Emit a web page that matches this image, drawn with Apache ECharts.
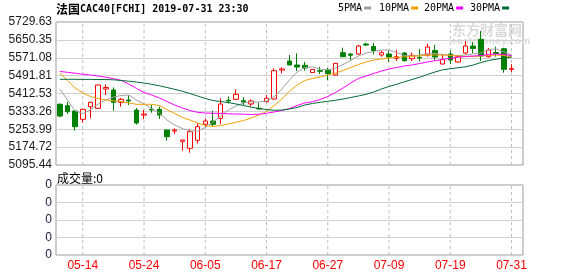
<!DOCTYPE html>
<html><head><meta charset="utf-8">
<script src="https://cdn.jsdelivr.net/npm/echarts@6/dist/echarts.min.js"></script>
<style>html,body{margin:0;padding:0;background:#fff}#c{width:578px;height:276px;background:#fff}</style>
</head><body><div id="c"></div>
<script>
const dates = ['05-09','05-10','05-13','05-14','05-15','05-16','05-17','05-20','05-21','05-22','05-23','05-24','05-27','05-28','05-29','05-30','05-31','06-03','06-04','06-05','06-06','06-07','06-10','06-11','06-12','06-13','06-14','06-17','06-18','06-19','06-20','06-21','06-24','06-25','06-26','06-27','06-28','07-01','07-02','07-03','07-04','07-05','07-08','07-09','07-10','07-11','07-12','07-15','07-16','07-17','07-18','07-19','07-22','07-23','07-24','07-25','07-26','07-29','07-30','07-31'];
const opens = [5364.6,5358.4,5334.9,5298.1,5354.0,5346.9,5432.5,5428.0,5373.5,5383.7,
5339.3,5317.2,5342.4,5342.4,5250.6,5246.2,5200.5,5169.5,5205.0,5275.9,
5290.5,5302.5,5382.4,5386.8,5380.6,5365.9,5346.9,5376.1,5388.1,5516.7,
5556.6,5538.9,5537.6,5505.6,5513.6,5516.7,5494.5,5593.5,5587.7,5587.7,
5632.0,5621.0,5583.2,5587.7,5568.6,5592.1,5566.9,5572.9,5583.3,5603.2,
5543.3,5587.7,5552.2,5592.1,5623.2,5652.9,5575.7,5594.3,5611.2,5519.8];
const closes = [5312.7,5331.8,5265.3,5342.4,5373.5,5450.2,5439.1,5373.5,5386.8,5379.3,
5281.7,5321.6,5339.3,5317.2,5220.9,5250.6,5206.3,5243.1,5265.3,5290.5,
5275.9,5365.9,5379.3,5409.0,5374.8,5379.3,5343.8,5391.2,5513.6,5521.2,
5538.9,5530.0,5525.6,5519.0,5511.0,5501.2,5546.4,5575.7,5582.0,5623.2,
5627.6,5603.2,5593.5,5574.4,5575.7,5558.0,5582.0,5569.9,5618.7,5574.4,
5563.3,5561.0,5575.7,5623.2,5612.1,5578.8,5605.4,5589.9,5519.8,5522.5];
const lows = [5307.0,5321.6,5247.5,5283.0,5302.5,5345.0,5405.9,5336.2,5354.0,5361.5,
5275.0,5298.1,5327.4,5299.4,5203.2,5232.9,5158.8,5150.0,5190.7,5265.3,
5268.4,5277.3,5368.2,5383.7,5361.5,5354.0,5342.0,5373.5,5383.7,5502.1,
5538.9,5512.3,5513.6,5503.5,5499.0,5472.4,5492.3,5574.4,5561.0,5583.3,
5623.2,5585.5,5575.7,5552.2,5556.6,5554.4,5556.6,5554.4,5575.7,5561.0,
5541.0,5543.3,5550.0,5585.5,5590.8,5556.6,5572.2,5575.7,5504.7,5507.8];
const highs = [5369.0,5374.8,5339.0,5345.0,5375.0,5452.0,5453.3,5440.0,5392.6,5403.7,
5348.2,5339.3,5361.5,5354.0,5251.0,5258.2,5206.5,5253.7,5280.3,5302.5,
5336.2,5391.2,5399.3,5431.1,5395.7,5386.8,5371.7,5405.9,5524.3,5528.7,
5583.2,5590.8,5552.2,5521.0,5531.4,5525.6,5547.7,5615.6,5590.8,5627.6,
5637.8,5636.5,5602.3,5601.0,5605.4,5596.6,5593.5,5609.9,5634.3,5627.6,
5587.7,5602.3,5581.0,5645.4,5640.9,5689.7,5614.3,5620.0,5615.6,5542.0];
const ma5 = [5432.5,5383.7,5334.9,5323.8,5339.3,5365.9,5383.7,5397.0,5403.6,5406.0,
5383.7,5365.9,5346.0,5326.0,5295.0,5272.8,5257.3,5246.2,5246.2,5261.7,
5286.1,5312.7,5339.3,5357.1,5370.4,5374.8,5374.8,5379.3,5397.0,5432.5,
5472.4,5507.9,5527.8,5530.0,5521.2,5516.7,5525.6,5541.1,5558.9,5578.8,
5592.1,5598.8,5605.4,5605.4,5594.3,5581.0,5578.8,5583.2,5589.9,5589.9,
5585.5,5583.2,5581.0,5583.2,5587.7,5592.1,5607.7,5609.9,5596.6,5583.2];
const ma10 = [5503.4,5470.2,5436.9,5414.7,5399.2,5390.3,5383.7,5380.6,5377.0,5370.4,
5364.6,5364.6,5364.6,5359.3,5341.5,5323.8,5306.1,5295.0,5281.7,5270.6,
5266.2,5270.6,5277.2,5284.8,5292.8,5303.8,5317.2,5332.7,5359.3,5388.1,
5423.6,5450.2,5470.2,5479.0,5485.7,5494.5,5503.4,5514.5,5527.8,5541.1,
5552.2,5561.1,5565.5,5569.9,5573.0,5575.3,5577.5,5579.7,5582.0,5583.2,
5583.2,5581.0,5578.8,5576.6,5576.6,5578.8,5581.0,5583.2,5581.0,5574.4];
const ma20 = [5510.1,5506.5,5502.5,5498.1,5494.5,5490.1,5484.4,5478.2,5471.0,5454.6,
5435.6,5416.9,5405.8,5392.5,5377.0,5361.5,5348.2,5337.1,5329.1,5326.0,
5324.7,5323.8,5322.5,5321.6,5320.7,5319.4,5320.3,5324.7,5330.5,5337.1,
5346.0,5359.3,5370.4,5376.1,5385.9,5399.2,5416.9,5436.9,5459.1,5479.0,
5490.1,5501.2,5512.3,5521.2,5527.8,5534.5,5539.0,5545.6,5552.2,5558.0,
5563.3,5568.6,5573.0,5576.6,5578.8,5581.0,5585.5,5587.7,5585.5,5580.1];
const ma30 = [5475.5,5475.5,5475.5,5475.1,5475.1,5474.6,5474.6,5473.3,5470.2,5467.1,
5463.5,5459.1,5453.3,5446.7,5439.1,5431.1,5422.7,5412.5,5401.4,5390.3,
5381.5,5377.0,5372.6,5366.0,5359.3,5351.7,5346.0,5341.5,5338.0,5339.3,
5343.8,5350.4,5361.5,5368.2,5373.5,5378.0,5382.4,5388.1,5394.8,5401.4,
5409.0,5419.2,5432.5,5443.6,5453.3,5464.4,5474.6,5484.4,5496.8,5507.9,
5517.6,5522.5,5526.5,5531.0,5538.9,5550.0,5558.9,5564.6,5569.9,5573.5];
const volumes = [0,0,0,0,0,0,0,0,0,0,0,0,0,0,0,0,0,0,0,0,0,0,0,0,0,0,0,0,0,0,
0,0,0,0,0,0,0,0,0,0,0,0,0,0,0,0,0,0,0,0,0,0,0,0,0,0,0,0,0,0];
const yTickValues = [5095.44,5174.72,5253.99,5333.26,5412.53,5491.81,5571.08,5650.35,5729.63];
const yTickLabels = ['5095.44','5174.72','5253.99','5333.26','5412.53','5491.81','5571.08','5650.35','5729.63'];
const volTickValues = [0,1,2,3,4];
const volTickLabels = ['0','0','0','0','0'];
const xTickLabels = ['05-14','05-24','06-05','06-17','06-27','07-09','07-19','07-31'];
const maNames = ['5PMA','10PMA','20PMA','30PMA'];
const titleText = '法国CAC40[FCHI] 2019-07-31 23:30';
const volTitle = '成交量:0';

const cats = dates.concat([' ']);
const candleData = dates.map((d, i) => [opens[i], closes[i], lows[i], highs[i]]);
// slot centres of the labelled dates on a value scale spanning the same category slots
const tickSlot = xTickLabels.map(d => dates.indexOf(d) + 0.5);
const yMin = yTickValues[0], yMax = yTickValues[yTickValues.length - 1];
const vMin = volTickValues[0], vMax = volTickValues[volTickValues.length - 1];
const vgrid0 = [];
const vgrid1 = [];
tickSlot.forEach(s => {
  vgrid0.push([s, yMin], [s, yMax], [s, '-']);
  vgrid1.push([s, vMin], [s, vMax], [s, '-']);
});

const chart = echarts.init(document.getElementById('c'), null, {renderer: 'canvas'});
const labelFont = {fontFamily: '"Liberation Sans", Arial, sans-serif', fontSize: 12};
const monoFont = '"DejaVu Sans Mono", monospace';
const maColors = ['#a0a0a0', '#f2a000', '#ff00ff', '#006a35'];
const legendLefts = [338, 379, 424, 470];
const dashLine = {color: '#bdbdbd', width: 1, type: [3, 3]};

function nearestLabel(v) {
  let best = 0;
  for (let i = 1; i < yTickValues.length; i++) if (Math.abs(yTickValues[i] - v) < Math.abs(yTickValues[best] - v)) best = i;
  return yTickLabels[best];
}
const slotAxis = (gi) => ({type: 'value', gridIndex: gi, min: 0, max: cats.length, show: false});

const option = {
  animation: false,
  title: [
    {text: '{c|法国}{a|' + titleText.slice(2) + '}', left: 56, top: 3, padding: 0,
     textStyle: {rich: {c: {fontFamily: '"Noto Sans CJK SC"', fontSize: 12, color: '#000'},
                        a: {fontFamily: monoFont, fontSize: 10, color: '#000'}}}},
    {text: volTitle, left: 57, top: 172, padding: 0,
     textStyle: {fontFamily: '"Noto Sans CJK SC"', fontSize: 12, fontWeight: 'normal', color: '#000'}}
  ],
  legend: maNames.map((n, k) => ({
    data: [n], left: legendLefts[k], top: 3, padding: 0, align: 'right', icon: 'rect',
    itemWidth: 7, itemHeight: 3, selectedMode: false,
    textStyle: {fontFamily: monoFont, fontSize: 10, color: '#000', padding: [0, -3, 0, 0]}
  })),
  graphic: [
    {type: 'text', left: 452, top: 23, z: 0, silent: true,
     style: {text: '东方财富网', font: 'bold 14px "Noto Sans CJK SC"', fill: '#dadada'}},
    {type: 'text', left: 451, top: 37, z: 0, silent: true,
     style: {text: 'eastmoney.com', font: 'bold 9px "DejaVu Sans"', fill: '#dedede'}}
  ],
  grid: [
    {left: 56, top: 22, width: 467, height: 143, show: true, borderColor: '#999', borderWidth: 1},
    {left: 56, top: 185, width: 467, height: 70, show: true, borderColor: '#999', borderWidth: 1}
  ],
  xAxis: [
    {type: 'category', gridIndex: 0, data: cats, boundaryGap: true,
     axisLine: {show: false}, axisTick: {show: false}, axisLabel: {show: false}, splitLine: {show: false}},
    {type: 'category', gridIndex: 1, data: cats, boundaryGap: true,
     axisLine: {show: false}, axisTick: {show: false}, splitLine: {show: false},
     axisLabel: {show: true, color: '#ff0000', ...labelFont, margin: 5, hideOverlap: false,
       interval: (idx, val) => xTickLabels.indexOf(val) >= 0}},
    slotAxis(0),
    slotAxis(1)
  ],
  yAxis: [
    {type: 'value', gridIndex: 0, min: yMin, max: yMax,
     axisLine: {show: false},
     axisTick: {show: false, customValues: yTickValues},
     axisLabel: {customValues: yTickValues, formatter: v => nearestLabel(v), color: '#1a1a1a', margin: 4, ...labelFont},
     splitLine: {show: true, lineStyle: {color: '#d0d0d0', width: 1}}},
    {type: 'value', gridIndex: 1, min: vMin, max: vMax, interval: 1,
     axisLine: {show: false}, axisTick: {show: false},
     axisLabel: {formatter: (v) => volTickLabels[Math.round(v)], color: '#1a1a3a', margin: 4, ...labelFont},
     splitLine: {show: true, lineStyle: {color: '#d0d0d0', width: 1}}}
  ],
  series: [
    {type: 'line', name: 'vgrid0', xAxisIndex: 2, yAxisIndex: 0, data: vgrid0, z: 2, silent: true,
     showSymbol: false, symbol: 'none', connectNulls: false, lineStyle: dashLine},
    {type: 'line', name: 'vgrid1', xAxisIndex: 3, yAxisIndex: 1, data: vgrid1, z: 2, silent: true,
     showSymbol: false, symbol: 'none', connectNulls: false, lineStyle: dashLine},
    {type: 'bar', name: 'vol', xAxisIndex: 1, yAxisIndex: 1, data: volumes, itemStyle: {color: '#ccc'}},
    {type: 'candlestick', name: 'K', xAxisIndex: 0, yAxisIndex: 0, data: candleData, barWidth: 5, z: 3,
     itemStyle: {color: '#ffffff', color0: '#008000', borderColor: '#ff0000', borderColor0: '#008000', borderWidth: 1}},
    ...[ma5, ma10, ma20, ma30].map((d, k) => ({
      type: 'line', name: maNames[k], xAxisIndex: 0, yAxisIndex: 0, data: d, showSymbol: false, symbol: 'none',
      z: 4, silent: true, lineStyle: {color: maColors[k], width: 1}, itemStyle: {color: maColors[k]}
    }))
  ]
};
chart.setOption(option);
</script>
</body></html>
